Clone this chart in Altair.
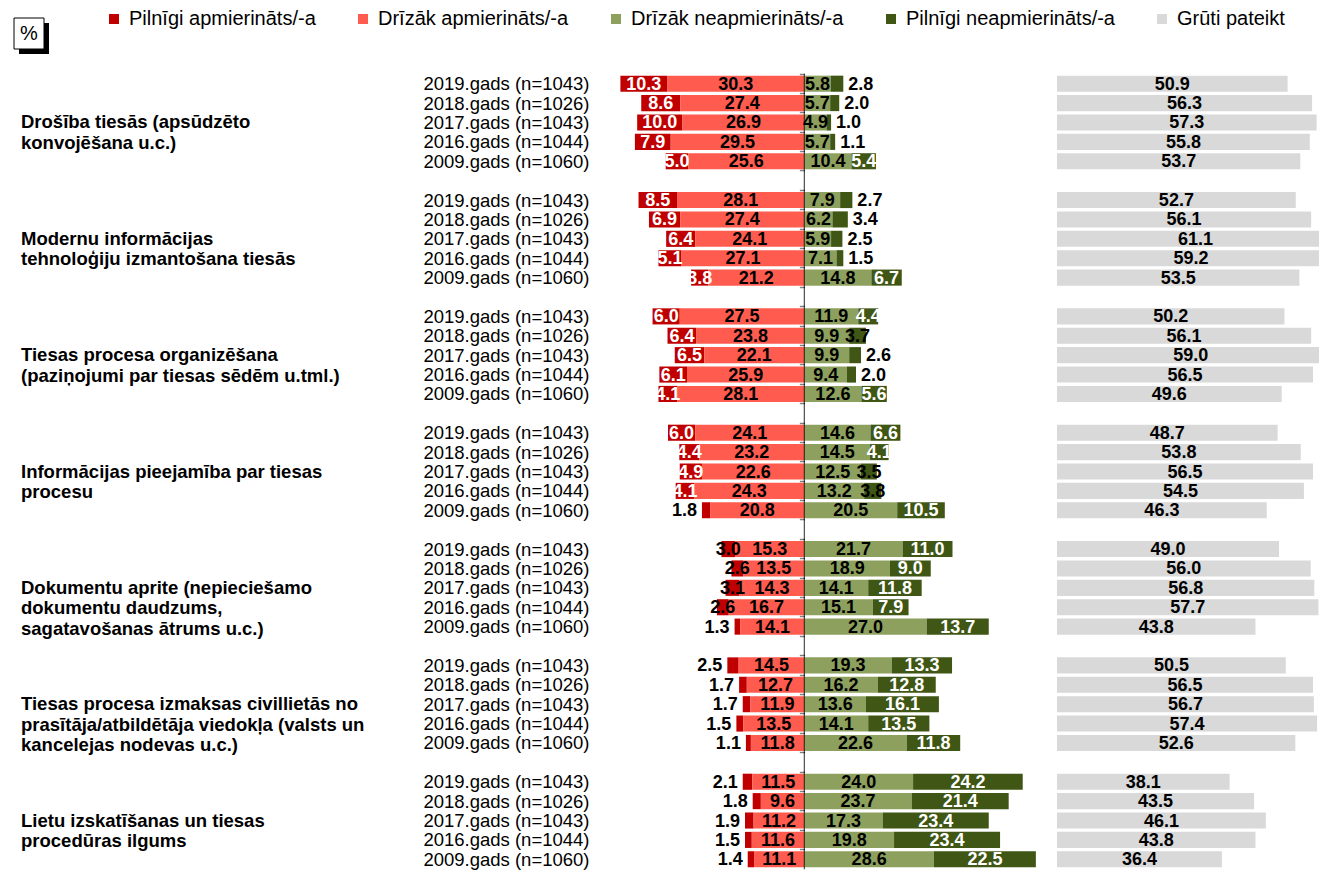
import altair as alt
import pandas as pd

CATEGORIES = [
    "Drošība tiesās (apsūdzēto\nkonvojēšana u.c.)",
    "Modernu informācijas\ntehnoloģiju izmantošana tiesās",
    "Tiesas procesa organizēšana\n(paziņojumi par tiesas sēdēm u.tml.)",
    "Informācijas pieejamība par tiesas\nprocesu",
    "Dokumentu aprite (nepieciešamo\ndokumentu daudzums,\nsagatavošanas ātrums u.c.)",
    "Tiesas procesa izmaksas civillietās no\nprasītāja/atbildētāja viedokļa (valsts un\nkancelejas nodevas u.c.)",
    "Lietu izskatīšanas un tiesas\nprocedūras ilgums",
]
YEARS = ["2019.gads (n=1043)", "2018.gads (n=1026)", "2017.gads (n=1043)",
         "2016.gads (n=1044)", "2009.gads (n=1060)"]
SERIES = ["Pilnīgi apmierināts/-a", "Drīzāk apmierināts/-a", "Drīzāk neapmierināts/-a",
          "Pilnīgi neapmierināts/-a", "Grūti pateikt"]
COLORS = ["#C00000", "#FF5B4F", "#8DA05E", "#3F5614", "#D9D9D9"]

PILNIGI_APM = [
    [10.3, 8.6, 10.0, 7.9, 5.0],
    [8.5, 6.9, 6.4, 5.1, 3.8],
    [6.0, 6.4, 6.5, 6.1, 4.1],
    [6.0, 4.4, 4.9, 4.1, 1.8],
    [3.0, 2.6, 3.1, 2.6, 1.3],
    [2.5, 1.7, 1.7, 1.5, 1.1],
    [2.1, 1.8, 1.9, 1.5, 1.4],
]
DRIZAK_APM = [
    [30.3, 27.4, 26.9, 29.5, 25.6],
    [28.1, 27.4, 24.1, 27.1, 21.2],
    [27.5, 23.8, 22.1, 25.9, 28.1],
    [24.1, 23.2, 22.6, 24.3, 20.8],
    [15.3, 13.5, 14.3, 16.7, 14.1],
    [14.5, 12.7, 11.9, 13.5, 11.8],
    [11.5, 9.6, 11.2, 11.6, 11.1],
]
DRIZAK_NEAPM = [
    [5.8, 5.7, 4.9, 5.7, 10.4],
    [7.9, 6.2, 5.9, 7.1, 14.8],
    [11.9, 9.9, 9.9, 9.4, 12.6],
    [14.6, 14.5, 12.5, 13.2, 20.5],
    [21.7, 18.9, 14.1, 15.1, 27.0],
    [19.3, 16.2, 13.6, 14.1, 22.6],
    [24.0, 23.7, 17.3, 19.8, 28.6],
]
PILNIGI_NEAPM = [
    [2.8, 2.0, 1.0, 1.1, 5.4],
    [2.7, 3.4, 2.5, 1.5, 6.7],
    [4.4, 3.7, 2.6, 2.0, 5.6],
    [6.6, 4.1, 3.5, 3.8, 10.5],
    [11.0, 9.0, 11.8, 7.9, 13.7],
    [13.3, 12.8, 16.1, 13.5, 11.8],
    [24.2, 21.4, 23.4, 23.4, 22.5],
]
GRUTI = [
    [50.9, 56.3, 57.3, 55.8, 53.7],
    [52.7, 56.1, 61.1, 59.2, 53.5],
    [50.2, 56.1, 59.0, 56.5, 49.6],
    [48.7, 53.8, 56.5, 54.5, 46.3],
    [49.0, 56.0, 56.8, 57.7, 43.8],
    [50.5, 56.5, 56.7, 57.4, 52.6],
    [38.1, 43.5, 46.1, 43.8, 36.4],
]

FONT = "Liberation Sans"

# ---- layout constants ----
H = 795
LEFT_W = 583
SPACING = 8
DIV_DOMAIN = [-44, 54]
DIV_W = 444
K = DIV_W / (DIV_DOMAIN[1] - DIV_DOMAIN[0])
GREY_W = 262
GREY_DOMAIN = [0, GREY_W / K]

# ---- slot keys (5 rows per group + blank separator) ----
keys = []
for g in range(len(CATEGORIES)):
    for j in range(len(YEARS)):
        keys.append(f"{g}|{YEARS[j]}")
    if g < len(CATEGORIES) - 1:
        keys.append(f"{g}|")
STEP = H / len(keys)

seg_rows, grey_rows, cat_rows = [], [], []
for g in range(len(CATEGORIES)):
    cat_rows.append({"key": f"{g}|{YEARS[2]}", "text": CATEGORIES[g]})
    for j in range(len(YEARS)):
        key = f"{g}|{YEARS[j]}"
        pa, da = PILNIGI_APM[g][j], DRIZAK_APM[g][j]
        dn, pn = DRIZAK_NEAPM[g][j], PILNIGI_NEAPM[g][j]
        segs = [(0, -(pa + da), -da, pa), (1, -da, 0.0, da),
                (2, 0.0, dn, dn), (3, dn, dn + pn, pn)]
        for si, x0, x1, v in segs:
            place, tc = "in", "black"
            if si == 0:
                if v < 2.55:
                    place = "left"
                elif v >= 3.5:
                    tc = "white"
            elif si == 3:
                if v < 3.45:
                    place = "right"
                elif v >= 4.0:
                    tc = "white"
            seg_rows.append({"key": key, "series": SERIES[si], "x0": x0, "x1": x1,
                             "mid": (x0 + x1) / 2, "label": f"{v:.1f}",
                             "place": place, "tc": tc})
        gv = GRUTI[g][j]
        grey_rows.append({"key": key, "series": SERIES[4], "value": gv,
                          "mid": gv / 2, "label": f"{gv:.1f}"})

seg = pd.DataFrame(seg_rows)
grey = pd.DataFrame(grey_rows)
cats = pd.DataFrame(cat_rows)
slots = pd.DataFrame({"key": keys})


def yscale():
    return alt.Scale(domain=keys, paddingInner=0.17, paddingOuter=0.085)


color_scale = alt.Scale(domain=SERIES, range=COLORS)
legend = alt.Legend(orient="none", legendX=90, legendY=-65, direction="horizontal",
                    title=None, symbolType="square", symbolSize=100,
                    symbolStrokeWidth=0, labelFont=FONT, labelFontSize=20,
                    labelColor="black", labelOffset=5, columnPadding=37,
                    labelLimit=400, padding=0)

# ---- left panel: category labels, year labels (axis) and % box ----
cat_text = alt.Chart(cats).mark_text(
    align="left", baseline="middle", lineBreak="\n", font=FONT, fontSize=18.5,
    fontWeight="bold", lineHeight=20.5, color="black"
).encode(
    x=alt.value(7),
    y=alt.Y("key:N", scale=yscale(), title=None,
            axis=alt.Axis(orient="right", offset=-8, domain=False, ticks=False,
                          grid=False, labelAlign="right", labelPadding=0,
                          labelExpr="split(datum.value, '|')[1]",
                          labelFont=FONT, labelFontSize=18.5, labelColor="black",
                          labelLimit=300)),
    text="text:N",
)
one = pd.DataFrame({"t": ["%"]})
shadow = alt.Chart(one).mark_rect(color="black").encode(
    x=alt.value(5), x2=alt.value(35), y=alt.value(-51), y2=alt.value(-20))
box = alt.Chart(one).mark_rect(color="white", stroke="black", strokeWidth=1).encode(
    x=alt.value(0), x2=alt.value(30), y=alt.value(-56), y2=alt.value(-25))
pct = alt.Chart(one).mark_text(font=FONT, fontSize=20, color="black",
                               baseline="middle", align="center").encode(
    x=alt.value(15), y=alt.value(-40), text="t:N")
left = alt.layer(cat_text, shadow, box, pct).properties(width=LEFT_W, height=H)

# ---- diverging panel ----
xdiv = alt.Scale(domain=DIV_DOMAIN, nice=False, zero=False)
bars = alt.Chart(seg).mark_bar().encode(
    x=alt.X("x0:Q", scale=xdiv, axis=None),
    x2="x1:Q",
    y=alt.Y("key:N", scale=yscale(), axis=None),
    color=alt.Color("series:N", scale=color_scale, legend=legend),
)
txt_common = dict(font=FONT, fontSize=18, fontWeight="bold", baseline="middle", dy=1)
t_in = alt.Chart(seg[seg.place == "in"]).mark_text(align="center", **txt_common).encode(
    x=alt.X("mid:Q", scale=xdiv, axis=None),
    y=alt.Y("key:N", scale=yscale(), axis=None),
    text="label:N",
    color=alt.Color("tc:N", scale=None),
)
t_left = alt.Chart(seg[seg.place == "left"]).mark_text(
    align="right", dx=-5, color="black", **txt_common).encode(
    x=alt.X("x0:Q", scale=xdiv, axis=None),
    y=alt.Y("key:N", scale=yscale(), axis=None),
    text="label:N",
)
t_right = alt.Chart(seg[seg.place == "right"]).mark_text(
    align="left", dx=5, color="black", **txt_common).encode(
    x=alt.X("x1:Q", scale=xdiv, axis=None),
    y=alt.Y("key:N", scale=yscale(), axis=None),
    text="label:N",
)
center = alt.Chart(slots).mark_tick(orient="vertical", size=STEP + 0.6,
                                    thickness=1.2, color="black").encode(
    x=alt.datum(0, scale=xdiv),
    y=alt.Y("key:N", scale=alt.Scale(domain=keys, paddingInner=0, paddingOuter=0),
            title=None,
            axis=alt.Axis(orient="left", offset=-(0 - DIV_DOMAIN[0]) * K,
                          labels=False, domain=False, ticks=True, grid=False,
                          tickColor="#808080", tickSize=5, tickWidth=1.5,
                          bandPosition=0)),
)
div = alt.layer(bars, t_in, t_left, t_right, center).resolve_scale(
    y="independent").properties(width=DIV_W, height=H)

# ---- grey panel ----
xgrey = alt.Scale(domain=GREY_DOMAIN, nice=False, zero=True)
gbars = alt.Chart(grey).mark_bar(clip=True).encode(
    x=alt.X("value:Q", scale=xgrey, axis=None),
    y=alt.Y("key:N", scale=yscale(), axis=None),
    color=alt.Color("series:N", scale=color_scale, legend=legend),
)
gtext = alt.Chart(grey).mark_text(align="center", color="black", **txt_common).encode(
    x=alt.X("mid:Q", scale=xgrey, axis=None),
    y=alt.Y("key:N", scale=yscale(), axis=None),
    text="label:N",
)
greyp = alt.layer(gbars, gtext).properties(width=GREY_W, height=H)

chart = alt.hconcat(left, div, greyp, spacing=SPACING, bounds="flush").resolve_scale(
    color="shared").resolve_legend(color="shared").properties(
    padding={"left": 5, "top": 1, "right": 0, "bottom": 0}, background="white"
).configure(font=FONT).configure_view(stroke=None, strokeWidth=0)

chart.save("out.html", embed_options={"renderer": "svg", "actions": False})
